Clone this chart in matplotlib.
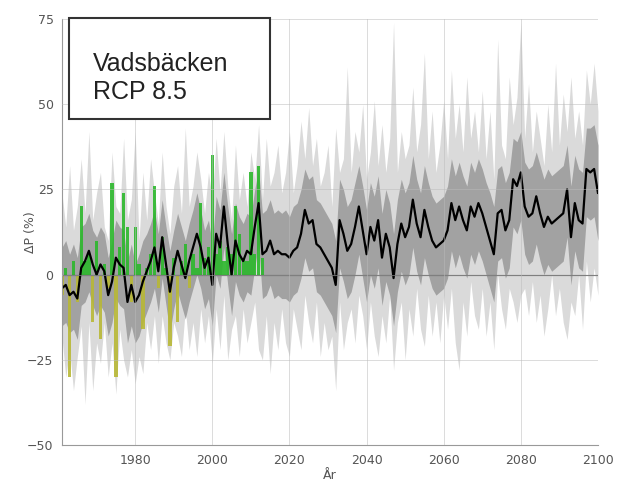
import numpy as np
import matplotlib.pyplot as plt
from matplotlib.patches import Rectangle

years = np.arange(1961, 2101)

# ensemble median (black line)
med = [-4, -3, -6, -5, -7, 2, 4, 7, 3, 0,
       3, 1, -6, -2, 5, 3, 2, -8, -3, -8,
       -6, -2, 1, 4, 8, 1, 11, 3, -5, 2,
       7, 3, -1, 4, 8, 12, 8, 2, 5, -3,
       12, 8, 20, 9, 0, 10, 6, 4, 7, 6,
       14, 21, 6, 7, 10, 6, 7, 6, 6, 5,
       7, 8, 12, 19, 15, 16, 9, 8, 6, 4,
       2, -3, 16, 12, 7, 9, 14, 20, 13, 6,
       14, 10, 16, 5, 12, 8, -1, 9, 15, 11,
       14, 22, 15, 11, 19, 14, 10, 8, 9, 10,
       13, 21, 16, 20, 16, 13, 20, 17, 21, 18,
       14, 10, 6, 18, 19, 13, 16, 28, 26, 30,
       20, 17, 18, 23, 18, 14, 17, 15, 16, 17,
       18, 25, 11, 21, 16, 15, 31, 30, 31, 24]

# inner band (dark grey)
dark_hi = [8, 10, 6, 9, 5, 14, 15, 18, 13, 11,
           14, 12, 5, 10, 16, 14, 13, 4, 9, 3,
           6, 10, 12, 15, 19, 12, 22, 14, 7, 13,
           18, 14, 10, 15, 19, 24, 19, 13, 16, 9,
           23, 19, 30, 20, 12, 21, 17, 15, 18, 17,
           25, 31, 18, 19, 22, 18, 19, 18, 19, 17,
           20, 21, 25, 31, 28, 29, 22, 21, 19, 17,
           15, 10, 28, 25, 20, 22, 27, 32, 26, 19,
           27, 23, 29, 18, 25, 21, 12, 22, 28, 24,
           27, 35, 28, 24, 32, 27, 23, 21, 22, 23,
           26, 34, 29, 33, 29, 26, 33, 30, 34, 31,
           27, 24, 20, 31, 32, 27, 30, 40, 39, 42,
           33, 31, 32, 36, 32, 28, 31, 29, 30, 31,
           32, 38, 26, 35, 31, 30, 43, 43, 44, 38]
dark_lo = [-15, -14, -17, -16, -19, -9, -8, -5, -9, -12,
           -9, -11, -18, -14, -7, -9, -10, -20, -15, -20,
           -18, -14, -11, -8, -4, -11, -1, -9, -17, -10,
           -5, -9, -13, -8, -4, 0, -4, -10, -7, -15,
           0, -4, 8, -3, -12, -2, -6, -8, -5, -6,
           2, 9, -7, -6, -3, -7, -6, -7, -7, -8,
           -6, -5, -1, 5, 1, 2, -5, -6, -8, -10,
           -12, -17, 2, -2, -7, -5, 0, 6, -1, -8,
           0, -4, 2, -9, -2, -6, -15, -5, 1, -3,
           0, 8, 1, -3, 5, 0, -4, -6, -5, -4,
           -1, 7, 2, 6, 2, -1, 6, 3, 7, 4,
           0, -4, -8, 4, 5, -1, 2, 14, 12, 16,
           6, 3, 4, 9, 4, 0, 3, 1, 2, 3,
           4, 11, -3, 7, 2, 1, 17, 16, 17, 10]

# outer band (light grey)
light_hi = [24, 14, 32, 13, 20, 34, 18, 42, 16, 24,
            30, 14, 10, 36, 20, 18, 40, 16, 22, 42,
            10, 30, 16, 34, 24, 15, 36, 20, 12, 26,
            32, 18, 43, 20, 26, 36, 28, 18, 30, 22,
            40, 24, 42, 26, 16, 38, 22, 30, 20, 36,
            28, 44, 22, 40, 26, 30, 38, 24, 30, 42,
            24, 32, 45, 34, 49, 32, 40, 26, 30, 38,
            20, 43, 30, 34, 61, 30, 42, 36, 50, 28,
            36, 51, 32, 44, 30, 40, 74, 30, 42, 34,
            38, 55, 36, 44, 65, 34, 48, 30, 38, 51,
            34, 60, 40, 50, 36, 58, 40, 48, 36, 54,
            34, 48, 28, 69, 38, 34, 58, 44, 52, 74,
            40, 56, 36, 48, 40, 32, 50, 36, 62, 38,
            53, 42, 58, 40, 48, 38, 60, 50, 62, 48]
light_lo = [-18, -30, -22, -34, -24, -15, -38, -14, -34, -20,
            -26, -14, -30, -20, -35, -16, -25, -30, -22, -32,
            -24, -29, -14, -22, -12, -26, -12, -20, -25, -14,
            -18, -24, -10, -22, -14, -24, -10, -20, -12, -26,
            -10, -22, -6, -25, -16, -12, -24, -10, -20, -14,
            -8, -22, -25, -12, -29, -14, -22, -10, -20, -24,
            -10, -16, -22, -6, -14, -20, -8, -24, -14, -22,
            -18, -34, -8, -22, -14, -10, -20, -6, -12, -22,
            -8, -18, -24, -12, -20, -6, -28, -14, -8, -25,
            -10, -18, -4, -16, -21, -6, -18, -8, -20, -6,
            -16, -4, -20, -28, -8, -18, -2, -12, -16, -4,
            -18, -8, -22, 0, -10, -16, -4, -8, -14, -6,
            -4, -12, -2, -14, -6, -18, -10, 0, -12, -4,
            -14, -19, -8, -12, 0, -16, 4, -8, 2, -6]

# observed anomalies 1961-2013
obs_years = np.arange(1961, 2014)
obs = [-6, 2, -30, 4, -8, 20, 4, 6, -14, 10,
       -19, 3, -4, 27, -30, 8, 24, 14, -8, 14,
       3, -16, 2, 6, 26, -4, 11, 2, -21, 5,
       -14, 4, 9, -4, 6, 2, 21, 5, 8, 35,
       6, 10, 4, 8, 6, 20, 12, 5, 4, 30,
       6, 32, 5]

fig = plt.figure(figsize=(6.19, 4.86), dpi=100)
ax = fig.add_axes([0.100, 0.084, 0.866, 0.877])

ax.fill_between(years, light_lo, light_hi, color='#dadada', lw=0)
ax.fill_between(years, dark_lo, dark_hi, color='#a2a2a2', lw=0)

obs = np.array(obs)
pos = obs >= 0
ax.bar(obs_years[pos], obs[pos], width=0.85, color='#2cb82c', alpha=0.9, lw=0)
ax.bar(obs_years[~pos], obs[~pos], width=0.85, color='#b8b836', alpha=0.9, lw=0)

ax.axhline(0, color='#444444', lw=0.8)
ax.plot(years, med, color='black', lw=1.6)

ax.set_xlim(1961, 2100)
ax.set_ylim(-50, 75)
ax.set_xticks([1980, 2000, 2020, 2040, 2060, 2080, 2100])
ax.set_yticks([-50, -25, 0, 25, 50, 75])
ax.grid(True, color='#bbbbbb', lw=0.6, alpha=0.6)
ax.set_axisbelow(False)
ax.tick_params(length=0, labelsize=9, colors='#555555', pad=6)
for s in ['top', 'right']:
    ax.spines[s].set_visible(False)
for s in ['left', 'bottom']:
    ax.spines[s].set_color('#999999')

ax.set_ylabel('ΔP (%)', fontsize=9, color='#555555', labelpad=-7)
ax.set_xlabel('År', fontsize=9, color='#555555', labelpad=2)

box = Rectangle((0.013, 0.765), 0.375, 0.237, transform=ax.transAxes,
                facecolor='white', edgecolor='#333333', lw=1.5, clip_on=False, zorder=5)
ax.add_patch(box)
ax.text(0.058, 0.862, 'Vadsbäcken\nRCP 8.5', transform=ax.transAxes, fontsize=18,
        family='Liberation Sans', va='center', ha='left', color='#222222',
        linespacing=1.2, zorder=6)

fig.savefig('out.png', dpi=100)
